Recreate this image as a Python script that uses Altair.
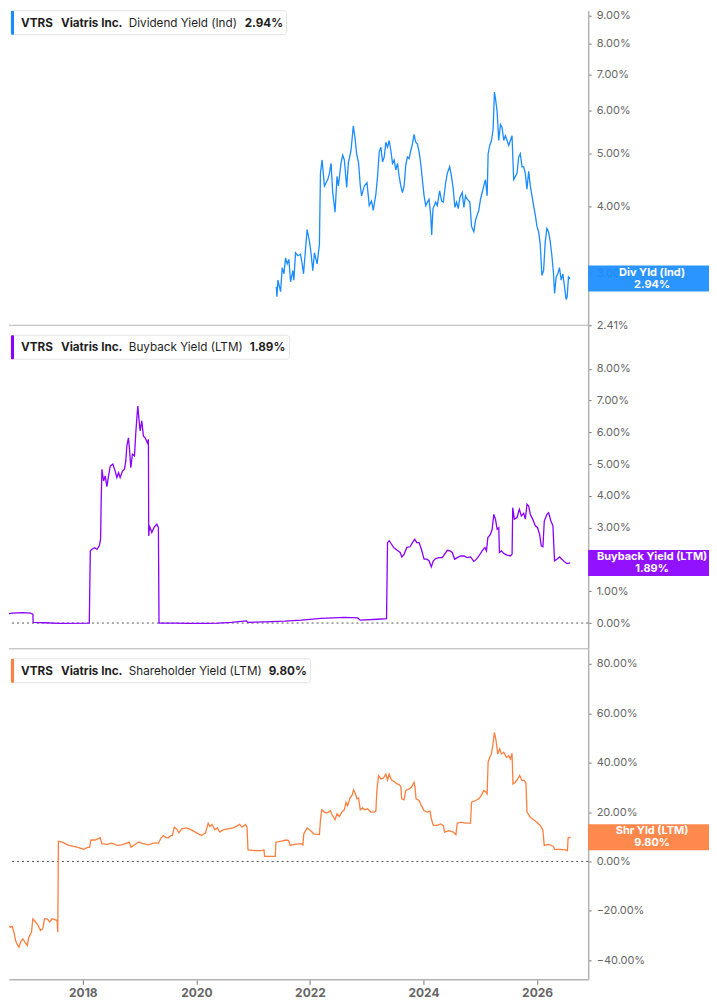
import altair as alt
import pandas as pd

TICKER = "VTRS"
COMPANY = "Viatris Inc."

# (decimal year, yield %)
div_yield = [
    (2021.407, 2.84), (2021.419, 2.72), (2021.436, 2.92), (2021.483, 2.78), (2021.512, 3.08),
    (2021.542, 3.00), (2021.571, 3.21), (2021.600, 3.13), (2021.629, 3.19), (2021.659, 2.90),
    (2021.700, 3.04), (2021.717, 2.92), (2021.746, 3.28), (2021.787, 3.24), (2021.834, 3.26),
    (2021.863, 3.13), (2021.887, 3.00), (2021.922, 3.33), (2021.951, 3.62), (2021.992, 3.44),
    (2022.021, 3.26), (2022.050, 3.04), (2022.080, 3.28), (2022.126, 3.13), (2022.167, 3.40),
    (2022.185, 4.60), (2022.214, 4.87), (2022.255, 4.36), (2022.284, 4.42), (2022.314, 4.48),
    (2022.343, 4.60), (2022.372, 4.80), (2022.401, 4.24), (2022.442, 3.90), (2022.477, 4.54),
    (2022.501, 4.36), (2022.547, 4.80), (2022.577, 4.97), (2022.606, 4.87), (2022.647, 4.33),
    (2022.676, 4.80), (2022.723, 5.07), (2022.764, 5.63), (2022.793, 5.36), (2022.822, 5.00),
    (2022.857, 4.80), (2022.887, 4.36), (2022.910, 4.18), (2022.957, 4.36), (2023.004, 4.42),
    (2023.045, 4.01), (2023.085, 4.09), (2023.115, 3.93), (2023.161, 4.21), (2023.191, 4.54),
    (2023.220, 5.04), (2023.249, 5.14), (2023.279, 4.83), (2023.308, 4.93), (2023.337, 5.25),
    (2023.366, 5.14), (2023.396, 5.29), (2023.425, 5.07), (2023.454, 4.80), (2023.483, 4.87),
    (2023.512, 4.67), (2023.542, 4.80), (2023.571, 4.54), (2023.600, 4.36), (2023.629, 4.24),
    (2023.659, 4.36), (2023.688, 4.77), (2023.717, 4.93), (2023.746, 4.90), (2023.776, 5.07),
    (2023.805, 5.21), (2023.834, 5.43), (2023.863, 5.25), (2023.893, 5.21), (2023.922, 5.04),
    (2023.951, 4.80), (2023.980, 4.48), (2024.010, 4.18), (2024.039, 4.01), (2024.068, 4.07),
    (2024.097, 4.12), (2024.127, 3.85), (2024.144, 3.54), (2024.167, 3.96), (2024.214, 4.07),
    (2024.243, 4.01), (2024.284, 4.27), (2024.319, 4.09), (2024.349, 4.07), (2024.390, 4.42),
    (2024.419, 4.60), (2024.460, 4.73), (2024.489, 4.57), (2024.524, 4.30), (2024.553, 3.98),
    (2024.583, 4.07), (2024.612, 3.96), (2024.641, 4.15), (2024.682, 4.24), (2024.711, 3.98),
    (2024.740, 4.18), (2024.770, 4.12), (2024.816, 4.07), (2024.846, 3.67), (2024.887, 3.59),
    (2024.916, 3.77), (2024.945, 3.85), (2024.974, 3.93), (2025.004, 4.12), (2025.033, 4.24),
    (2025.062, 4.36), (2025.091, 4.48), (2025.121, 4.18), (2025.138, 5.00), (2025.167, 5.18),
    (2025.197, 5.29), (2025.226, 5.55), (2025.249, 6.50), (2025.267, 6.33), (2025.296, 5.99),
    (2025.325, 5.29), (2025.355, 5.66), (2025.384, 5.59), (2025.413, 5.29), (2025.442, 5.40),
    (2025.472, 5.29), (2025.501, 5.18), (2025.530, 5.29), (2025.559, 5.40), (2025.588, 4.48),
    (2025.618, 4.54), (2025.647, 4.60), (2025.676, 4.93), (2025.705, 5.00), (2025.735, 4.73),
    (2025.764, 4.73), (2025.793, 4.60), (2025.822, 4.30), (2025.852, 4.64), (2025.881, 4.36),
    (2025.910, 4.18), (2025.939, 4.01), (2025.969, 3.85), (2025.998, 3.67), (2026.027, 3.59),
    (2026.056, 3.40), (2026.085, 2.98), (2026.115, 3.04), (2026.144, 3.44), (2026.173, 3.64),
    (2026.202, 3.59), (2026.232, 3.44), (2026.261, 3.24), (2026.290, 3.00), (2026.308, 2.76),
    (2026.337, 2.96), (2026.366, 3.00), (2026.395, 3.08), (2026.425, 2.92), (2026.454, 3.00),
    (2026.483, 2.84), (2026.512, 2.69), (2026.530, 2.72), (2026.553, 2.96), (2026.583, 2.94),
]

buyback_yield = [
    (2016.582, 0.26), (2016.757, 0.31), (2016.933, 0.33), (2017.079, 0.31), (2017.120, 0.28),
    (2017.126, 0.02), (2017.342, 0.01), (2017.576, -0.01), (2018.114, 0.00), (2018.132, 2.27),
    (2018.161, 2.32), (2018.208, 2.37), (2018.249, 2.32), (2018.290, 2.43), (2018.313, 2.64),
    (2018.325, 4.00), (2018.337, 4.84), (2018.366, 4.47), (2018.395, 4.63), (2018.424, 4.29),
    (2018.453, 4.63), (2018.483, 4.94), (2018.529, 5.00), (2018.570, 4.78), (2018.600, 4.58),
    (2018.629, 4.73), (2018.658, 4.58), (2018.699, 4.78), (2018.734, 4.84), (2018.757, 5.10),
    (2018.775, 5.57), (2018.804, 5.83), (2018.822, 5.47), (2018.845, 4.89), (2018.874, 5.31),
    (2018.910, 5.26), (2018.933, 5.99), (2018.950, 6.41), (2018.968, 6.83), (2018.991, 6.36),
    (2019.009, 6.05), (2019.038, 6.36), (2019.067, 5.89), (2019.097, 5.83), (2019.138, 5.67),
    (2019.155, 5.78), (2019.161, 2.74), (2019.173, 3.06), (2019.214, 2.85), (2019.255, 3.01),
    (2019.302, 3.11), (2019.331, 3.01), (2019.342, 0.00), (2019.623, 0.00), (2019.857, -0.01),
    (2020.150, -0.01), (2020.383, 0.00), (2020.617, 0.02), (2020.880, 0.07), (2020.909, 0.02),
    (2021.202, 0.04), (2021.553, 0.06), (2021.846, 0.09), (2022.197, 0.15), (2022.606, 0.18),
    (2022.840, 0.16), (2022.887, 0.09), (2023.191, 0.12), (2023.349, 0.14), (2023.366, 2.53),
    (2023.396, 2.59), (2023.437, 2.48), (2023.472, 2.38), (2023.513, 2.32), (2023.554, 2.27),
    (2023.589, 2.22), (2023.618, 2.08), (2023.659, 2.17), (2023.706, 2.38), (2023.764, 2.40),
    (2023.805, 2.53), (2023.846, 2.64), (2023.881, 2.53), (2023.922, 2.53), (2023.963, 2.32),
    (2024.010, 2.01), (2024.057, 2.01), (2024.097, 1.96), (2024.138, 1.77), (2024.173, 1.96),
    (2024.214, 2.03), (2024.273, 2.06), (2024.331, 2.06), (2024.372, 2.17), (2024.419, 2.29),
    (2024.466, 2.27), (2024.507, 2.22), (2024.548, 2.01), (2024.595, 2.06), (2024.653, 2.11),
    (2024.712, 2.11), (2024.770, 2.06), (2024.828, 2.08), (2024.887, 1.94), (2024.933, 2.01),
    (2024.975, 2.11), (2025.033, 2.27), (2025.080, 2.38), (2025.109, 2.27), (2025.133, 2.69),
    (2025.179, 2.79), (2025.209, 2.95), (2025.238, 3.42), (2025.267, 3.27), (2025.297, 2.95),
    (2025.326, 3.00), (2025.337, 2.22), (2025.372, 2.27), (2025.413, 2.19), (2025.472, 2.14),
    (2025.530, 2.11), (2025.560, 2.17), (2025.571, 3.63), (2025.600, 3.27), (2025.647, 3.32),
    (2025.688, 3.58), (2025.723, 3.37), (2025.764, 3.45), (2025.793, 3.27), (2025.823, 3.74),
    (2025.852, 3.68), (2025.881, 3.42), (2025.922, 3.27), (2025.969, 3.06), (2026.009, 3.00),
    (2026.045, 2.79), (2026.074, 2.43), (2026.103, 2.40), (2026.127, 3.21), (2026.174, 3.42),
    (2026.203, 3.47), (2026.244, 3.21), (2026.279, 3.06), (2026.308, 1.96), (2026.349, 2.01),
    (2026.396, 2.08), (2026.437, 2.01), (2026.477, 1.94), (2026.524, 1.87), (2026.583, 1.89),
]

shareholder_yield = [
    (2016.582, -20.5), (2016.611, -23.2), (2016.652, -23.9), (2016.687, -25.9), (2016.728, -26.6),
    (2016.757, -26.3), (2016.787, -28.6), (2016.816, -32.0), (2016.845, -33.6), (2016.874, -34.7),
    (2016.904, -32.6), (2016.944, -31.3), (2016.980, -32.6), (2017.021, -34.0), (2017.050, -30.6),
    (2017.097, -28.6), (2017.120, -23.2), (2017.167, -24.5), (2017.214, -25.9), (2017.255, -27.9),
    (2017.295, -27.2), (2017.325, -23.2), (2017.372, -23.2), (2017.418, -24.5), (2017.459, -23.2),
    (2017.518, -23.6), (2017.547, -23.9), (2017.559, -28.6), (2017.570, 8.2), (2017.635, 7.8),
    (2017.693, 7.2), (2017.752, 6.5), (2017.840, 6.1), (2017.927, 5.6), (2018.015, 4.9),
    (2018.073, 5.6), (2018.120, 5.8), (2018.143, 8.7), (2018.219, 8.7), (2018.307, 9.6),
    (2018.336, 7.2), (2018.424, 6.9), (2018.512, 7.4), (2018.600, 6.5), (2018.687, 6.7),
    (2018.775, 7.4), (2018.816, 7.8), (2018.851, 5.8), (2018.921, 6.9), (2018.980, 7.8),
    (2019.067, 7.2), (2019.155, 6.7), (2019.243, 7.4), (2019.331, 7.4), (2019.377, 9.5),
    (2019.418, 10.5), (2019.459, 9.8), (2019.506, 9.6), (2019.547, 10.5), (2019.576, 10.5),
    (2019.611, 13.9), (2019.652, 13.2), (2019.693, 11.6), (2019.740, 13.2), (2019.828, 13.6),
    (2019.915, 12.8), (2020.003, 11.6), (2020.090, 10.5), (2020.161, 11.6), (2020.208, 15.5),
    (2020.237, 14.2), (2020.278, 15.0), (2020.325, 12.8), (2020.372, 13.6), (2020.412, 11.9),
    (2020.471, 12.8), (2020.559, 13.2), (2020.646, 13.6), (2020.705, 14.2), (2020.763, 15.0),
    (2020.804, 13.9), (2020.863, 15.0), (2020.892, 13.9), (2020.909, 4.7), (2021.026, 4.4),
    (2021.143, 4.4), (2021.190, 4.7), (2021.202, 2.1), (2021.290, 2.1), (2021.389, 2.1),
    (2021.401, 7.8), (2021.494, 8.2), (2021.582, 8.7), (2021.623, 8.5), (2021.652, 6.5),
    (2021.728, 6.9), (2021.845, 7.2), (2021.875, 6.7), (2021.892, 11.2), (2021.951, 13.6),
    (2022.009, 12.5), (2022.068, 11.2), (2022.167, 10.9), (2022.185, 16.6), (2022.208, 20.9),
    (2022.255, 20.0), (2022.302, 19.6), (2022.360, 20.6), (2022.389, 19.0), (2022.442, 16.9),
    (2022.477, 19.3), (2022.518, 18.2), (2022.559, 20.0), (2022.606, 20.9), (2022.635, 24.0),
    (2022.664, 22.6), (2022.705, 25.7), (2022.740, 26.7), (2022.769, 29.0), (2022.799, 27.4),
    (2022.828, 25.4), (2022.857, 25.7), (2022.886, 20.9), (2022.927, 21.7), (2022.968, 20.9),
    (2023.015, 21.3), (2023.074, 20.0), (2023.132, 20.0), (2023.161, 20.4), (2023.179, 28.7),
    (2023.208, 34.8), (2023.249, 33.4), (2023.296, 33.8), (2023.337, 35.4), (2023.366, 33.0),
    (2023.395, 35.4), (2023.436, 33.0), (2023.483, 32.4), (2023.530, 31.4), (2023.571, 31.2),
    (2023.600, 30.3), (2023.617, 25.4), (2023.658, 25.0), (2023.687, 28.7), (2023.746, 29.4),
    (2023.787, 30.0), (2023.834, 32.1), (2023.851, 30.0), (2023.869, 25.4), (2023.921, 24.7),
    (2023.962, 22.6), (2024.009, 20.6), (2024.068, 20.0), (2024.114, 20.4), (2024.138, 17.3),
    (2024.173, 14.6), (2024.243, 14.6), (2024.301, 15.2), (2024.348, 14.6), (2024.372, 11.9),
    (2024.448, 12.5), (2024.524, 11.9), (2024.571, 10.8), (2024.594, 15.5), (2024.664, 15.9),
    (2024.740, 15.5), (2024.828, 15.5), (2024.846, 24.0), (2024.916, 24.7), (2024.974, 25.4),
    (2025.015, 26.7), (2025.062, 28.7), (2025.103, 28.0), (2025.120, 27.4), (2025.138, 40.2),
    (2025.167, 42.2), (2025.196, 43.5), (2025.220, 46.9), (2025.249, 52.3), (2025.278, 48.9),
    (2025.307, 43.5), (2025.342, 45.6), (2025.372, 43.5), (2025.413, 44.2), (2025.459, 42.2),
    (2025.500, 42.8), (2025.530, 41.5), (2025.559, 43.8), (2025.576, 31.4), (2025.617, 32.1),
    (2025.658, 33.4), (2025.693, 34.8), (2025.734, 32.8), (2025.775, 32.8), (2025.805, 31.7),
    (2025.822, 20.0), (2025.881, 17.9), (2025.939, 16.9), (2025.997, 15.9), (2026.056, 14.6),
    (2026.103, 12.8), (2026.126, 6.5), (2026.202, 6.9), (2026.290, 6.1), (2026.307, 4.9),
    (2026.407, 4.9), (2026.494, 4.7), (2026.535, 4.4), (2026.547, 9.6), (2026.594, 9.8),
]

BLUE = "#1a8cff"
PURPLE = "#8a00ff"
ORANGE = "#ff7f3f"
INK = "#1f1f1f"
MUTED = "#666666"
LINE = "#b3b3b3"
FONT = "Inter"

W = 580
BOX_W = 121
X_DOMAIN = [2016.70, 2026.90]
YEAR_TICKS = [2018, 2020, 2022, 2024, 2026]
ONE = pd.DataFrame({"a": [0]})


def panel(series, color, name, short, y_scale, y_ticks, height,
          chip_w, value_x, chip_top, zero=False, last=False):
    df = pd.DataFrame(series, columns=["t", "v"])
    tail = df.tail(1)
    value_txt = f"{df['v'].iloc[-1]:.2f}%"

    if last:
        x_axis = alt.Axis(values=YEAR_TICKS, format="d", grid=False, tickSize=5,
                          labelFontWeight="bold", labelFontSize=12, labelPadding=3)
    else:
        x_axis = None
    x = alt.X("t:Q", scale=alt.Scale(domain=X_DOMAIN, nice=False, zero=False),
              axis=x_axis, title=None)
    # every layer carries the same axis spec, so the merged axis survives
    y_axis = alt.Axis(orient="right", values=y_ticks, grid=False, title=None,
                      labelExpr="format(datum.value, '.2f') + '%'")
    yv = alt.Y("v:Q", scale=y_scale, axis=y_axis, title=None)

    layers = []
    if zero:
        layers.append(alt.Chart(pd.DataFrame({"v": [0]}))
                      .mark_rule(color="#555555", strokeDash=[2, 3], strokeWidth=1)
                      .encode(y=yv))
    layers.append(alt.Chart(df).mark_line(color=color, strokeWidth=1.3, clip=True)
                  .encode(x=x, y=yv))
    if not last:
        layers.append(alt.Chart(ONE).mark_rule(color=LINE, strokeWidth=1)
                      .encode(y=alt.value(height), x=alt.value(0), x2=alt.value(W)))

    # last-value tag on the right axis
    layers.append(alt.Chart(tail).mark_rect(color=color, opacity=0.93, yOffset=-13, y2Offset=13)
                  .encode(x=alt.value(W), x2=alt.value(W + BOX_W), y=yv, y2="v"))
    for txt, dy in ((short, -6), (value_txt, 6)):
        layers.append(alt.Chart(tail).mark_text(color="white", font=FONT, fontSize=11,
                                                fontWeight="bold", dy=dy)
                      .encode(x=alt.value(W + 64), y=yv, text=alt.value(txt)))

    # legend chip, top-left
    layers.append(alt.Chart(ONE).mark_rect(fill="white", stroke="#e3e3e3", strokeWidth=1,
                                           cornerRadius=3)
                  .encode(x=alt.value(2), x2=alt.value(2 + chip_w),
                          y=alt.value(chip_top), y2=alt.value(chip_top + 24)))
    layers.append(alt.Chart(ONE).mark_rect(color=color, cornerRadius=1)
                  .encode(x=alt.value(2), x2=alt.value(5),
                          y=alt.value(chip_top), y2=alt.value(chip_top + 24)))
    for txt, px, weight in ((TICKER, 12, "bold"), (COMPANY, 52, "bold"),
                            (name, 120, "normal"), (value_txt, value_x, "bold")):
        layers.append(alt.Chart(ONE).mark_text(align="left", baseline="middle", font=FONT,
                                               fontSize=11.7, fontWeight=weight, color=INK)
                      .encode(x=alt.value(px), y=alt.value(chip_top + 12),
                              text=alt.value(txt)))

    return alt.layer(*layers).properties(width=W, height=height)


top = panel(div_yield, BLUE, "Dividend Yield (Ind)", "Div Yld (Ind)",
            alt.Scale(type="log", domain=[2.41, 9.19], nice=False),
            [2.41, 3, 4, 5, 6, 7, 8, 9], 315, 276, 236, 0)
mid = panel(buyback_yield, PURPLE, "Buyback Yield (LTM)", "Buyback Yield (LTM)",
            alt.Scale(domain=[-0.81, 9.37], nice=False, zero=False),
            [0, 1, 3, 4, 5, 6, 7, 8], 324, 279, 241, 10, zero=True)
bot = panel(shareholder_yield, ORANGE, "Shareholder Yield (LTM)", "Shr Yld (LTM)",
            alt.Scale(domain=[-47.7, 86.1], nice=False, zero=False),
            [-40, -20, 0, 20, 40, 60, 80], 331, 300, 260, 10, zero=True, last=True)

chart = (alt.vconcat(top, mid, bot, spacing=0, bounds="flush")
         .resolve_scale(y="independent")
         .properties(padding=0, background="white")
         .configure_view(stroke=None)
         .configure_axis(domainColor=LINE, domainWidth=1.5, tickColor="#777777", tickSize=3,
                         labelColor=MUTED, labelFont=FONT, labelFontSize=11, labelPadding=5))

chart.save("out.html", embed_options={"renderer": "svg", "actions": False})
